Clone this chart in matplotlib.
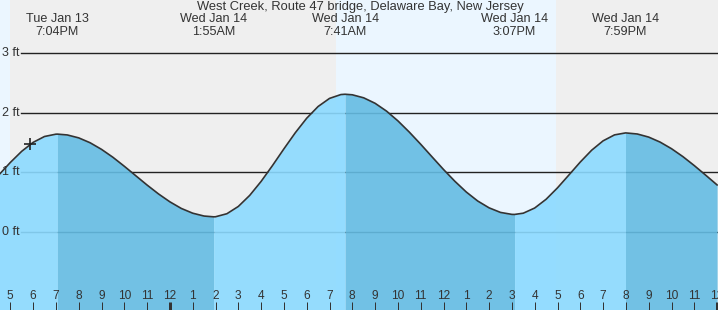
import numpy as np
import matplotlib
matplotlib.use("Agg")
import matplotlib.pyplot as plt

plt.rcParams['font.family'] = ['Liberation Sans', 'DejaVu Sans']

# hours counted from Tue Jan 13, 5:00 PM
station = "West Creek, Route 47 bridge, Delaware Bay, New Jersey"

# tide extremes (time in hours, height in ft)
ext_hours = [2.067, 8.917, 14.683, 22.117, 26.983]
ext_heights = [1.64, 0.25, 2.31, 0.29, 1.66]
ext_labels = ["Tue Jan 13\n7:04PM", "Wed Jan 14\n1:55AM", "Wed Jan 14\n7:41AM",
              "Wed Jan 14\n3:07PM", "Wed Jan 14\n7:59PM"]

# half-hourly heights
read_hours = list(np.arange(-0.5, 31.01, 0.5))
read_heights = [0.955, 1.163, 1.351, 1.501, 1.600, 1.639,
                1.626, 1.577, 1.495, 1.384, 1.251, 1.100, 0.942, 0.784,
                0.635, 0.502, 0.391, 0.311, 0.263,
                0.251, 0.302, 0.424, 0.610, 0.845, 1.112, 1.392, 1.663,
                1.907, 2.104, 2.240, 2.305,
                2.301, 2.250, 2.158, 2.027, 1.863, 1.674, 1.470, 1.257,
                1.046, 0.847, 0.667, 0.516, 0.401, 0.324, 0.291,
                0.311, 0.398, 0.545, 0.737, 0.953, 1.171, 1.370, 1.527, 1.627,
                1.660, 1.642, 1.590, 1.506, 1.395, 1.262, 1.111, 0.950, 0.786]

now_hour, now_height = 0.864, 1.47
day_spans = [(-1.0, -0.02), (14.29, 23.92)]
ft_levels = [0, 1, 2, 3]
hour_ticks = list(range(0, 32))

# pixel mapping of the original image
PX_HOUR, X0 = 22.8, 10.3
PX_FT, Y0 = 59.5, 231.7
W, H = 718, 310

def fy(py):
    return (Y0 - py) / PX_FT

def fx(px):
    return (px - X0) / PX_HOUR

fig = plt.figure(figsize=(W / 100, H / 100), dpi=100)
ax = fig.add_axes([0, 0, 1, 1])
ax.set_xlim(fx(0), fx(W))
ax.set_ylim(fy(H), fy(0))
ax.axis('off')
ax.add_patch(plt.Rectangle((0, 0), 1, 1, transform=ax.transAxes,
                           color='#efefef', zorder=0))
for a, b in day_spans:
    ax.axvspan(a, b, color='#ebf6ff', zorder=0.5, lw=0)

# grid lines
for lv in ft_levels:
    ax.plot([fx(21), fx(W)], [lv, lv], color='#222222', lw=1.0, zorder=1)
    ax.text(fx(2), lv, f"{lv} ft", ha='left', va='center', fontsize=9,
            color='#333333', zorder=5)

# merge half-hourly readings and extremes
pts = sorted(zip(read_hours + ext_hours, read_heights + ext_heights))
xs = np.array([p[0] for p in pts])
ys = np.array([p[1] for p in pts])
bottom = fy(H)

bounds = [xs[0]] + ext_hours + [xs[-1]]
rising = ys[1] > ys[0]
for i in range(len(bounds) - 1):
    m = (xs >= bounds[i] - 1e-9) & (xs <= bounds[i + 1] + 1e-9)
    col = '#8bdaff' if rising else '#64bce3'
    ax.fill_between(xs[m], ys[m], bottom, color=col, alpha=0.9, lw=0, zorder=2)
    rising = not rising

ax.plot(xs, ys, color='#333333', lw=1.2, zorder=4)
ax.plot(now_hour, now_height, marker='+', color='#222222', ms=9, mew=1.2, zorder=5)

# top labels
ax.text(fx(360), fy(7), station, ha='center', va='center', fontsize=9.3, color='#333333')
for t, lab in zip(ext_hours, ext_labels):
    l1, l2 = lab.split("\n")
    ax.text(t, fy(19.5), l1, ha='center', va='center', fontsize=9.1, color='#333333')
    ax.text(t, fy(32), l2, ha='center', va='center', fontsize=9.1, color='#333333')

# hour ticks
for h in hour_ticks:
    clock = (17 + h) % 24
    lab = (clock - 1) % 12 + 1
    ax.text(h, fy(296), str(lab), ha='center', va='center', fontsize=8.6, color='#333333')
    lw = 3 if clock == 0 else 1
    ax.plot([h, h], [fy(302), fy(H)], color='#333333', lw=lw * 0.72,
            solid_capstyle='butt', zorder=5)

fig.savefig("out.png", dpi=100)
